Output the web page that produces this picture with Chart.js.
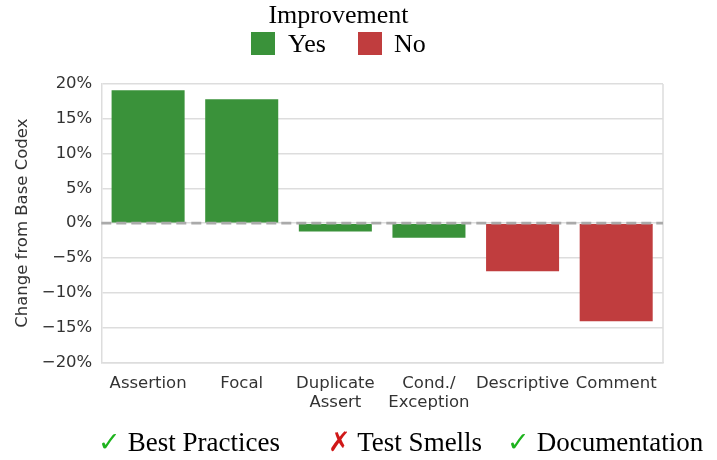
<!DOCTYPE html>
<html>
<head>
<meta charset="utf-8">
<script src="https://cdn.jsdelivr.net/npm/chart.js@4"></script>
<style>
  body { margin: 0; background: #fff; }
  #wrap { position: relative; width: 717px; height: 460px; }
  .serif { font-family: "Liberation Serif", serif; font-size: 26px; color: #000; white-space: nowrap; }
  #legend-title { position: absolute; left: 0; width: 677px; top: 0; text-align: center; line-height: 30px; }
  .swatch { position: absolute; top: 32px; width: 24px; height: 23px; }
  .lbl { position: absolute; top: 28px; line-height: 32px; }
  #foot { position: absolute; left: 0; top: 425px; width: 717px; font-size: 27px; line-height: 34px; }
  #foot > span { position: absolute; }
  .ok { color: #1db31d; }
  .bad { color: #d01818; }
</style>
</head>
<body>
<div id="wrap">
  <canvas id="chart" width="717" height="460"></canvas>
  <div id="legend"></div>
  <div id="foot" class="serif">
    <span style="left:98px"><span class="ok">✓</span> Best Practices</span>
    <span style="left:328px"><span class="bad">✗</span> Test Smells</span>
    <span style="left:507px"><span class="ok">✓</span> Documentation</span>
  </div>
</div>
<script>
    // 数据
    const categories = ['Assertion', 'Focal', ['Duplicate', 'Assert'], ['Cond./', 'Exception'], 'Descriptive', 'Comment'];
    const changeValues = [19.1, 17.8, -1.2, -2.1, -6.9, -14.1];
    const improved = [true, true, true, true, false, false];
    const yTicks = [-20, -15, -10, -5, 0, 5, 10, 15, 20];
    const legendTitle = 'Improvement';
    const legendNames = ['Yes', 'No'];

    const green = '#3a923a';
    const red = '#c03d3e';

    // 图例（HTML）
    const legend = document.getElementById('legend');
    legend.innerHTML =
        '<div id="legend-title" class="serif">' + legendTitle + '</div>' +
        '<div class="swatch" style="left:251px;background:' + green + '"></div>' +
        '<div class="lbl serif" style="left:288px">' + legendNames[0] + '</div>' +
        '<div class="swatch" style="left:358px;background:' + red + '"></div>' +
        '<div class="lbl serif" style="left:394px">' + legendNames[1] + '</div>';

    // 0% 虚线和右边框
    const zeroLine = {
        id: 'zeroLine',
        afterDatasetsDraw(chart) {
            const ctx = chart.ctx;
            const a = chart.chartArea;
            const y = chart.scales.y.getPixelForValue(0);
            ctx.save();
            ctx.strokeStyle = '#dddddd';
            ctx.lineWidth = 1.5;
            ctx.beginPath();
            ctx.moveTo(a.right, a.top);
            ctx.lineTo(a.right, a.bottom);
            ctx.stroke();
            ctx.strokeStyle = '#aaaaaa';
            ctx.lineWidth = 2.8;
            ctx.setLineDash([10, 5]);
            ctx.beginPath();
            ctx.moveTo(a.left, y);
            ctx.lineTo(a.right, y);
            ctx.stroke();
            ctx.restore();
        }
    };

    new Chart(document.getElementById('chart'), {
        type: 'bar',
        data: {
            labels: categories,
            datasets: [
                {
                    label: legendNames[0],
                    data: changeValues.map((v, i) => improved[i] ? v : null),
                    backgroundColor: green
                },
                {
                    label: legendNames[1],
                    data: changeValues.map((v, i) => improved[i] ? null : v),
                    backgroundColor: red
                }
            ]
        },
        options: {
            responsive: false,
            animation: false,
            layout: { padding: { left: 13, right: 54, top: 84, bottom: 44 } },
            datasets: {
                bar: { grouped: false, categoryPercentage: 0.78, barPercentage: 1, borderWidth: 0 }
            },
            plugins: {
                tooltip: { enabled: false },
                legend: { display: false }
            },
            scales: {
                x: {
                    grid: { display: false },
                    border: { color: '#dddddd', width: 1.5 },
                    ticks: {
                        color: '#333', padding: 3, maxRotation: 0, autoSkip: false,
                        font: { family: 'DejaVu Sans', size: 16.5, lineHeight: 1.2 }
                    }
                },
                y: {
                    min: -20, max: 20,
                    afterBuildTicks: axis => { axis.ticks = yTicks.map(v => ({ value: v })); },
                    grid: { color: '#dddddd', lineWidth: 1.5, drawTicks: false },
                    border: { color: '#dddddd', width: 1.5 },
                    ticks: {
                        color: '#333', padding: 9,
                        font: { family: 'DejaVu Sans', size: 16.5 },
                        callback: v => (v < 0 ? '\u2212' + Math.abs(v) : v) + '%'
                    },
                    title: {
                        display: true, text: 'Change from Base Codex', color: '#333',
                        padding: { top: 0, bottom: 0 },
                        font: { family: 'DejaVu Sans', size: 16.5 }
                    }
                }
            }
        },
        plugins: [zeroLine]
    });
</script>
</body>
</html>
